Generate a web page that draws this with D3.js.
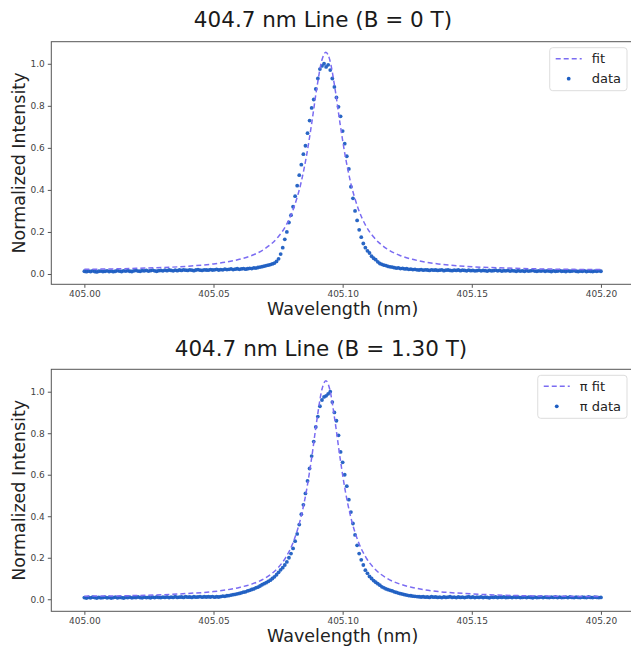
<!DOCTYPE html>
<html>
<head>
<meta charset="utf-8">
<script src="https://cdn.jsdelivr.net/npm/d3@7"></script>
<style>
  body { margin: 0; background: #fff; }
  text { font-family: "DejaVu Sans", sans-serif; }
</style>
</head>
<body>
<div id="chart"></div>
<script>
// sampling grid of the spectrometer (nm)
const wlStart = 405.000;
const wlStep = 0.0008;

// measured intensity, B = 0 T
const intensityB0 = [
  .013,.011,.014,.012,.015,.012,.010,.013,.014,.012,
  .013,.015,.012,.014,.011,.013,.016,.014,.012,.015,
  .014,.016,.013,.012,.015,.017,.014,.013,.016,.015,
  .017,.014,.016,.018,.015,.013,.016,.017,.015,.018,
  .016,.019,.017,.015,.018,.016,.019,.017,.020,.018,
  .017,.020,.018,.016,.019,.021,.018,.017,.020,.019,
  .018,.021,.019,.020,.022,.019,.021,.020,.023,.021,
  .022,.024,.021,.023,.025,.022,.024,.026,.023,.025,
  .027,.026,.029,.028,.031,.033,.035,.037,.040,.042,
  .045,.048,.052,.060,.072,.095,.125,.165,.200,.245,
  .280,.320,.370,.420,.470,.520,.570,.610,.670,.730,
  .790,.830,.880,.930,.975,.990,1.000,.985,.995,.970,
  .930,.890,.840,.795,.750,.680,.620,.560,.500,.415,
  .360,.300,.255,.210,.175,.145,.125,.110,.100,.085,
  .075,.068,.058,.050,.046,.042,.040,.036,.034,.033,
  .030,.028,.029,.026,.027,.024,.025,.022,.023,.021,
  .022,.020,.019,.021,.018,.020,.019,.017,.020,.018,
  .019,.017,.018,.020,.016,.018,.019,.017,.016,.018,
  .017,.019,.016,.018,.017,.015,.018,.016,.017,.015,
  .016,.018,.015,.017,.016,.014,.017,.015,.016,.018,
  .015,.017,.014,.016,.015,.017,.014,.016,.015,.013,
  .016,.014,.015,.013,.016,.014,.015,.017,.014,.013,
  .015,.014,.016,.013,.015,.014,.012,.015,.013,.014,
  .016,.013,.014,.012,.015,.013,.014,.016,.013,.012,
  .014,.013,.015,.012,.014,.013,.012,.014,.013,.015,
  .013
];

// measured intensity (pi component), B = 1.30 T
const intensityB130 = [
  .008,.006,.009,.007,.010,.008,.006,.009,.007,.008,
  .010,.007,.009,.006,.008,.010,.007,.009,.008,.006,
  .009,.008,.010,.007,.009,.008,.011,.008,.007,.010,
  .008,.009,.007,.010,.008,.011,.009,.008,.010,.009,
  .011,.008,.010,.009,.012,.009,.010,.011,.009,.012,
  .010,.011,.009,.012,.010,.011,.013,.010,.012,.011,
  .012,.011,.013,.010,.012,.011,.013,.015,.014,.017,
  .018,.020,.022,.024,.026,.028,.031,.034,.036,.040,
  .043,.047,.050,.055,.058,.064,.070,.075,.080,.086,
  .092,.100,.108,.118,.130,.142,.152,.165,.180,.200,
  .220,.245,.280,.315,.360,.410,.455,.510,.570,.630,
  .690,.760,.830,.880,.930,.960,.975,.980,.990,1.000,
  .950,.900,.860,.790,.710,.660,.600,.545,.480,.420,
  .365,.310,.260,.220,.190,.165,.140,.125,.110,.100,
  .090,.082,.075,.068,.060,.055,.050,.046,.043,.040,
  .036,.033,.030,.027,.025,.022,.020,.018,.017,.015,
  .014,.013,.012,.011,.012,.010,.011,.009,.012,.010,
  .011,.009,.010,.008,.011,.009,.010,.012,.009,.010,
  .008,.011,.009,.010,.008,.010,.012,.009,.011,.008,
  .010,.009,.011,.008,.010,.009,.007,.010,.009,.011,
  .008,.010,.009,.011,.008,.009,.010,.008,.011,.009,
  .010,.008,.009,.011,.008,.010,.009,.007,.010,.008,
  .009,.011,.008,.010,.009,.008,.010,.009,.011,.008,
  .010,.008,.009,.010,.008,.011,.009,.008,.010,.009,
  .008,.010,.009,.008,.011,.009,.008,.010,.009,.008,
  .009
];

// fitted curves
const fitWavelengths = [405.000,405.020,405.040,405.050,405.060,405.065,405.070,405.075,405.078,405.081,
  405.084,405.086,405.088,405.090,405.092,405.0935,405.095,405.097,405.099,405.101,
  405.103,405.106,405.109,405.112,405.117,405.122,405.127,405.137,405.147,405.167,405.200];
const fitB0 = [0.022,0.027,0.037,0.048,0.070,0.089,0.121,0.176,0.229,0.312,
  0.440,0.562,0.715,0.885,1.019,1.055,1.019,0.885,0.715,0.562,
  0.440,0.312,0.229,0.176,0.121,0.089,0.070,0.048,0.037,0.027,0.021];
const fitB130 = [0.015,0.018,0.028,0.037,0.057,0.074,0.102,0.152,0.202,0.279,
  0.403,0.524,0.681,0.862,1.012,1.053,1.012,0.862,0.681,0.524,
  0.403,0.279,0.202,0.152,0.102,0.074,0.057,0.037,0.028,0.018,0.013];

const xTicks = [405.00, 405.05, 405.10, 405.15, 405.20];
const yTicks = [0.0, 0.2, 0.4, 0.6, 0.8, 1.0];
const titles = ["404.7 nm Line (B = 0 T)", "404.7 nm Line (B = 1.30 T)"];
const legendLabels = [["fit", "data"], ["\u03c0 fit", "\u03c0 data"]];

const W = 631, H = 651;
const fitColor = "#7b6cf2";
const dotColor = "#1d5ec2";

const svg = d3.select("#chart").append("svg")
  .attr("width", W).attr("height", H);
svg.append("rect").attr("width", W).attr("height", H).attr("fill", "#fff");

function drawPanel(cfg) {
  const x = d3.scaleLinear().domain([404.9872, 405.2128]).range([cfg.left, cfg.right]);
  const y = d3.scaleLinear().domain(cfg.ydomain).range([cfg.bottom, cfg.top]);
  const g = svg.append("g");

  // title
  g.append("text")
    .attr("x", cfg.titleX).attr("y", cfg.titleY)
    .attr("text-anchor", "middle")
    .style("font-size", "21.5px").style("fill", "#1a1a1a")
    .text(cfg.title);

  // axes
  const xAxis = d3.axisBottom(x).tickValues(xTicks).tickFormat(d3.format(".2f")).tickSize(3.5).tickPadding(2.5);
  const yAxis = d3.axisLeft(y).tickValues(yTicks).tickFormat(d3.format(".1f")).tickSize(3.5).tickPadding(3);
  const gx = g.append("g").attr("transform", `translate(0,${cfg.bottom})`).call(xAxis);
  const gy = g.append("g").attr("transform", `translate(${cfg.left},0)`).call(yAxis);
  [gx, gy].forEach(a => {
    a.select(".domain").remove();
    a.selectAll(".tick line").attr("stroke", "#555");
    a.selectAll(".tick text").style("font-size", "9px").style("fill", "#444")
      .style("font-family", "'DejaVu Sans', sans-serif");
  });

  // clip for marks
  const clipId = "clip" + cfg.id;
  g.append("clipPath").attr("id", clipId).append("rect")
    .attr("x", cfg.left).attr("y", cfg.top)
    .attr("width", cfg.right - cfg.left).attr("height", cfg.bottom - cfg.top);
  const plot = g.append("g").attr("clip-path", `url(#${clipId})`);

  // data points
  plot.selectAll("circle.pt")
    .data(cfg.values)
    .join("circle")
    .attr("class", "pt")
    .attr("cx", (d, i) => x(wlStart + i * wlStep))
    .attr("cy", d => y(d))
    .attr("r", 1.9)
    .attr("fill", dotColor)
    .attr("opacity", 0.95);

  // fit line
  const line = d3.line()
    .x((d, i) => x(fitWavelengths[i]))
    .y(d => y(d))
    .curve(d3.curveMonotoneX);
  plot.append("path")
    .datum(cfg.fit)
    .attr("d", line)
    .attr("fill", "none")
    .attr("stroke", fitColor)
    .attr("stroke-width", 1.5)
    .attr("stroke-dasharray", "5,3");

  // frame
  g.append("rect")
    .attr("x", cfg.left).attr("y", cfg.top)
    .attr("width", cfg.right - cfg.left).attr("height", cfg.bottom - cfg.top)
    .attr("fill", "none").attr("stroke", "#555").attr("stroke-width", 1);

  // axis labels
  g.append("text")
    .attr("x", (cfg.left + cfg.right) / 2).attr("y", cfg.xlabelY)
    .attr("text-anchor", "middle")
    .style("font-size", "17.5px").style("fill", "#222")
    .text("Wavelength (nm)");
  g.append("text")
    .attr("transform", `translate(${cfg.ylabelX},${(cfg.top + cfg.bottom) / 2}) rotate(-90)`)
    .attr("text-anchor", "middle")
    .style("font-size", "17.5px").style("fill", "#222")
    .text("Normalized Intensity");

  // legend
  const lg = g.append("g");
  const box = lg.append("rect")
    .attr("y", cfg.top + 6).attr("height", 43)
    .attr("rx", 3).attr("fill", "#fff").attr("stroke", "#ddd");
  const labels = cfg.legend.map((t, i) => lg.append("text")
    .attr("y", cfg.top + 6 + 11 + i * 20).attr("dy", "0.35em")
    .style("font-size", "13px").style("fill", "#222")
    .text(t));
  const tw = d3.max(labels, l => l.node().getComputedTextLength());
  const bx = cfg.right - 7 - (42 + tw + 6);
  box.attr("x", bx).attr("width", 42 + tw + 6);
  labels.forEach(l => l.attr("x", bx + 42));
  lg.append("line")
    .attr("x1", bx + 6).attr("x2", bx + 32)
    .attr("y1", cfg.top + 17).attr("y2", cfg.top + 17)
    .attr("stroke", fitColor).attr("stroke-width", 1.5).attr("stroke-dasharray", "5,3");
  lg.append("circle")
    .attr("cx", bx + 19).attr("cy", cfg.top + 37).attr("r", 1.9)
    .attr("fill", dotColor);
}

drawPanel({
  id: 0, left: 51.3, right: 634, top: 41.7, bottom: 284.3,
  ydomain: [-0.049, 1.105], values: intensityB0, fit: fitB0,
  title: titles[0], titleX: 323, titleY: 27, xlabelY: 315, ylabelX: 25,
  legend: legendLabels[0]
});
drawPanel({
  id: 1, left: 51.3, right: 634, top: 369.3, bottom: 611.3,
  ydomain: [-0.058, 1.108], values: intensityB130, fit: fitB130,
  title: titles[1], titleX: 321, titleY: 356, xlabelY: 642, ylabelX: 25,
  legend: legendLabels[1]
});
</script>
</body>
</html>
